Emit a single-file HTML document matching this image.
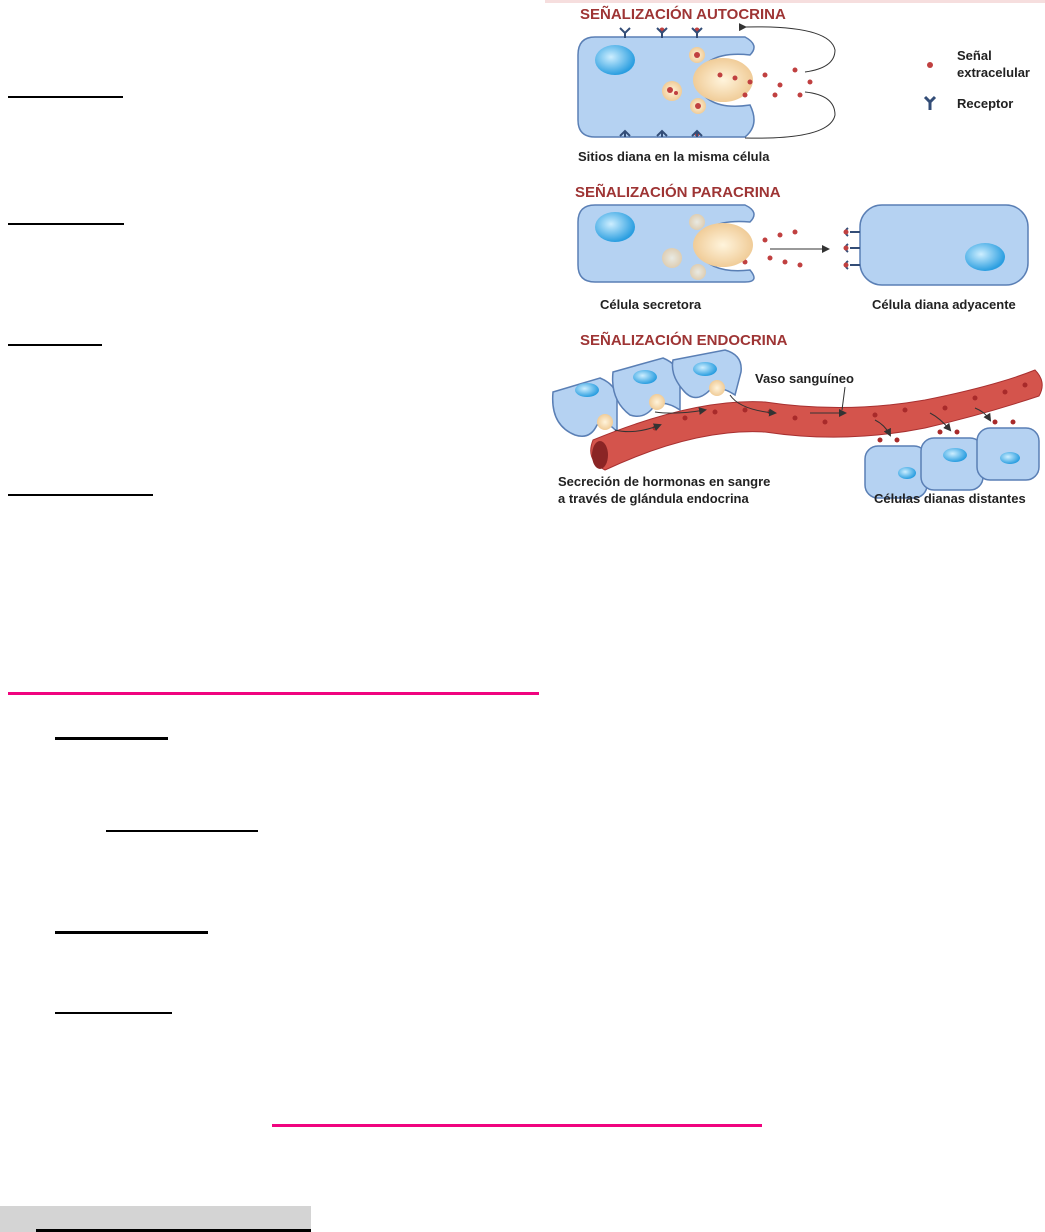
<!DOCTYPE html>
<html><head><meta charset="utf-8"><style>
html,body{margin:0;padding:0;background:#fff;}
body{width:1045px;height:1232px;position:relative;overflow:hidden;font-family:"Liberation Sans",sans-serif;}
.l{position:absolute;background:#000;height:2px;}
.p{position:absolute;background:#f0047f;height:3px;}
</style></head><body>
<div class="l" style="left:8px;top:96px;width:115px"></div>
<div class="l" style="left:8px;top:223px;width:116px"></div>
<div class="l" style="left:8px;top:344px;width:94px"></div>
<div class="l" style="left:8px;top:494px;width:145px"></div>
<div class="p" style="left:8px;top:692px;width:531px"></div>
<div class="l" style="left:55px;top:737px;width:113px;height:3px"></div>
<div class="l" style="left:106px;top:830px;width:152px"></div>
<div class="l" style="left:55px;top:931px;width:153px;height:3px"></div>
<div class="l" style="left:55px;top:1012px;width:117px"></div>
<div class="p" style="left:272px;top:1124px;width:490px"></div>
<div style="position:absolute;left:0;top:1206px;width:311px;height:26px;background:#d4d4d4"></div>
<div class="l" style="left:36px;top:1229px;width:275px;height:3px"></div>

<svg style="position:absolute;left:545px;top:0" width="500" height="510" viewBox="0 0 500 510">
<defs>
<radialGradient id="nu" cx="40%" cy="40%" r="60%"><stop offset="0" stop-color="#cdeeff"/><stop offset="1" stop-color="#2a9ee0"/></radialGradient>
<radialGradient id="ve" cx="50%" cy="50%" r="50%"><stop offset="0" stop-color="#fff4dc"/><stop offset="1" stop-color="#f0cc98"/></radialGradient>
<marker id="ar" markerWidth="8" markerHeight="8" refX="6" refY="4" orient="auto"><path d="M0,0 L8,4 L0,8z" fill="#333"/></marker>
</defs>
<rect x="0" y="0" width="500" height="3" fill="#f6dede"/>
<g font-weight="bold" fill="#9e3434" font-size="15">
<text x="35" y="19">SEÑALIZACIÓN AUTOCRINA</text>
<text x="30" y="197">SEÑALIZACIÓN PARACRINA</text>
<text x="35" y="345">SEÑALIZACIÓN ENDOCRINA</text>
</g>
<path d="M50,37 H200 Q215,45 205,55 Q160,50 150,80 Q160,112 205,105 Q215,125 200,137 H50 Q33,137 33,120 V55 Q33,37 50,37z" fill="#b5d2f2" stroke="#5a7fb5" stroke-width="1.5"/>
<ellipse cx="70" cy="60" rx="20" ry="15" fill="url(#nu)"/>
<ellipse cx="178" cy="80" rx="30" ry="22" fill="url(#ve)"/>
<circle cx="152" cy="55" r="8" fill="url(#ve)"/><circle cx="127" cy="91" r="10" fill="url(#ve)"/><circle cx="153" cy="106" r="8" fill="url(#ve)"/>
<path d="M200,27 Q285,25 290,50 Q290,68 260,72" fill="none" stroke="#333" marker-start="url(#ar)"/>
<path d="M200,138 Q285,140 290,115 Q290,95 260,92" fill="none" stroke="#333"/>
<g fill="#c04040">
<circle cx="175" cy="75" r="2.5"/><circle cx="190" cy="78" r="2.5"/><circle cx="205" cy="82" r="2.5"/><circle cx="220" cy="75" r="2.5"/><circle cx="235" cy="85" r="2.5"/><circle cx="250" cy="70" r="2.5"/><circle cx="230" cy="95" r="2.5"/><circle cx="255" cy="95" r="2.5"/><circle cx="265" cy="82" r="2.5"/><circle cx="200" cy="95" r="2.5"/>
<circle cx="175" cy="245" r="2.5"/><circle cx="190" cy="240" r="2.5"/><circle cx="205" cy="248" r="2.5"/><circle cx="220" cy="240" r="2.5"/><circle cx="235" cy="235" r="2.5"/><circle cx="250" cy="232" r="2.5"/><circle cx="240" cy="262" r="2.5"/><circle cx="255" cy="265" r="2.5"/><circle cx="225" cy="258" r="2.5"/><circle cx="200" cy="262" r="2.5"/>
<circle cx="385" cy="65" r="3"/>
<circle cx="117" cy="30" r="2.5"/><circle cx="152" cy="30" r="2.5"/><circle cx="152" cy="134" r="2.5"/>
<circle cx="152" cy="55" r="3"/><circle cx="125" cy="90" r="3"/><circle cx="131" cy="93" r="2"/><circle cx="153" cy="106" r="3"/>
<circle cx="152" cy="222" r="3"/><circle cx="125" cy="257" r="3"/><circle cx="131" cy="261" r="2"/><circle cx="153" cy="272" r="3"/>
</g>
<g stroke="#334d77" stroke-width="2" fill="none">
<path d="M80,38 V33 M75,28 L80,33 L85,28 M117,38 V33 M112,28 L117,33 L122,28 M152,38 V33 M147,28 L152,33 L157,28"/>
<path d="M80,137 V131 M75,136 L80,131 L85,136 M117,137 V131 M112,136 L117,131 L122,136 M152,137 V131 M147,136 L152,131 L157,136"/>
<path d="M380,97 L385,102 L390,97 M385,102 V110" stroke-width="3"/>
</g>
<g font-weight="bold" fill="#222" font-size="13">
<text x="412" y="60">Señal</text><text x="412" y="77">extracelular</text><text x="412" y="108">Receptor</text>
<text x="33" y="161">Sitios diana en la misma célula</text>
<text x="55" y="309">Célula secretora</text>
<text x="327" y="309">Célula diana adyacente</text>
<text x="210" y="383">Vaso sanguíneo</text>
</g>
<path d="M50,205 H200 Q215,212 205,222 Q160,218 150,245 Q160,275 205,270 Q215,282 200,282 H50 Q33,282 33,265 V222 Q33,205 50,205z" fill="#b5d2f2" stroke="#5a7fb5" stroke-width="1.5"/>
<ellipse cx="70" cy="227" rx="20" ry="15" fill="url(#nu)"/>
<ellipse cx="178" cy="245" rx="30" ry="22" fill="url(#ve)"/>
<circle cx="152" cy="222" r="8" fill="url(#ve)" opacity="0.7"/><circle cx="127" cy="258" r="10" fill="url(#ve)" opacity="0.7"/><circle cx="153" cy="272" r="8" fill="url(#ve)" opacity="0.7"/>
<line x1="225" y1="249" x2="283" y2="249" stroke="#333" marker-end="url(#ar)"/>
<rect x="315" y="205" width="168" height="80" rx="22" fill="#b5d2f2" stroke="#5a7fb5" stroke-width="1.5"/>
<ellipse cx="440" cy="257" rx="20" ry="14" fill="url(#nu)"/>
<g stroke="#334d77" stroke-width="2" fill="none"><path d="M305,232 H315 M305,248 H315 M305,265 H315 M303,228 Q298,232 303,236 M303,244 Q298,248 303,252 M303,261 Q298,265 303,269"/></g>
<g fill="#c04040"><circle cx="301" cy="232" r="2.5"/><circle cx="301" cy="248" r="2.5"/><circle cx="301" cy="265" r="2.5"/></g>
<g fill="#b5d2f2" stroke="#5a7fb5" stroke-width="1.5">
<path d="M8,392 L55,378 Q72,385 72,400 L72,432 Q62,420 52,425 Q45,440 30,435 Q5,425 8,392z"/>
<path d="M68,372 L118,358 Q135,365 135,380 L135,410 Q120,400 110,405 Q100,420 85,415 Q65,400 68,372z"/>
<path d="M128,360 L180,350 Q198,355 196,372 L190,395 Q175,385 165,390 Q150,405 138,390 Q125,375 128,360z"/>
<rect x="320" y="446" width="62" height="52" rx="13"/><rect x="376" y="438" width="62" height="52" rx="13"/><rect x="432" y="428" width="62" height="52" rx="13"/>
</g>
<ellipse cx="42" cy="390" rx="12" ry="7" fill="url(#nu)"/><ellipse cx="100" cy="377" rx="12" ry="7" fill="url(#nu)"/><ellipse cx="160" cy="369" rx="12" ry="7" fill="url(#nu)"/>
<circle cx="60" cy="422" r="8" fill="url(#ve)"/><circle cx="112" cy="402" r="8" fill="url(#ve)"/><circle cx="172" cy="388" r="8" fill="url(#ve)"/>
<ellipse cx="362" cy="473" rx="9" ry="6" fill="url(#nu)"/><ellipse cx="410" cy="455" rx="12" ry="7" fill="url(#nu)"/><ellipse cx="465" cy="458" rx="10" ry="6" fill="url(#nu)"/>
<path d="M48,440 Q150,398 220,402 Q300,414 380,400 Q450,386 490,370 Q502,382 494,396 Q440,414 380,428 Q300,444 220,432 Q150,428 60,470 Q40,460 48,440z" fill="#d4544c" stroke="#a83030"/>
<ellipse cx="55" cy="455" rx="8" ry="14" fill="#8a2525"/>
<g fill="#a82a2a">
<circle cx="110" cy="428" r="2.5"/><circle cx="140" cy="418" r="2.5"/><circle cx="170" cy="412" r="2.5"/><circle cx="200" cy="410" r="2.5"/><circle cx="225" cy="412" r="2.5"/><circle cx="250" cy="418" r="2.5"/><circle cx="280" cy="422" r="2.5"/><circle cx="330" cy="415" r="2.5"/><circle cx="360" cy="410" r="2.5"/><circle cx="400" cy="408" r="2.5"/><circle cx="430" cy="398" r="2.5"/><circle cx="460" cy="392" r="2.5"/><circle cx="480" cy="385" r="2.5"/>
<circle cx="335" cy="440" r="2.5"/><circle cx="352" cy="440" r="2.5"/><circle cx="395" cy="432" r="2.5"/><circle cx="412" cy="432" r="2.5"/><circle cx="450" cy="422" r="2.5"/><circle cx="468" cy="422" r="2.5"/>
</g>
<g fill="none" stroke="#333"><path d="M70,430 Q90,435 115,425" marker-end="url(#ar)"/><path d="M110,412 Q130,415 160,410" marker-end="url(#ar)"/><path d="M185,395 Q195,410 230,413" marker-end="url(#ar)"/><path d="M265,413 H300" marker-end="url(#ar)"/><path d="M330,420 Q340,425 345,435" marker-end="url(#ar)"/><path d="M385,413 Q395,418 405,430" marker-end="url(#ar)"/><path d="M430,408 Q440,412 445,420" marker-end="url(#ar)"/></g>
<line x1="300" y1="387" x2="297" y2="410" stroke="#333"/>
</svg>
<div style="position:absolute;left:558px;top:473px;font:bold 13px 'Liberation Sans',sans-serif;color:#222;line-height:17px">Secreción de hormonas en sangre<br>a través de glándula endocrina</div>
<div style="position:absolute;left:874px;top:491px;font:bold 13px 'Liberation Sans',sans-serif;color:#222">Células dianas distantes</div>
</body></html>
